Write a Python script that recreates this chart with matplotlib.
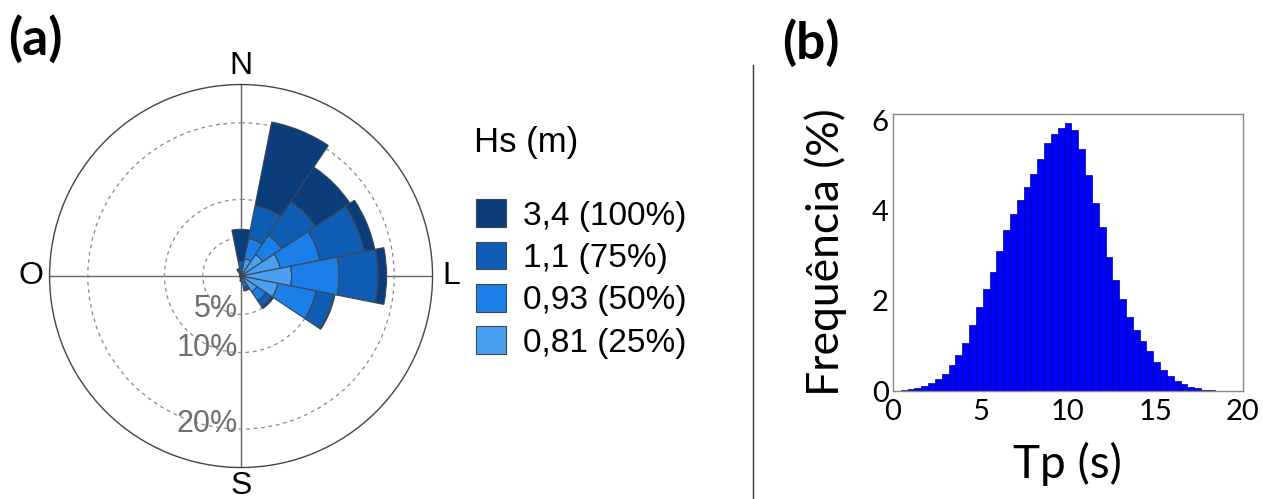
import numpy as np
import matplotlib
matplotlib.use("Agg")
import matplotlib.pyplot as plt
from matplotlib.lines import Line2D
from matplotlib import transforms

# wave rose: frequency (%) per direction and Hs class, 16 sectors clockwise from N
directions = np.arange(16) * 22.5
hs_labels = ['0,81 (25%)', '0,93 (50%)', '1,1 (75%)', '3,4 (100%)']
hs_colors = ['#4a9ff0', '#1a7fe8', '#0f5cb5', '#0a3d7a']
freq_081 = [0.6, 2.3, 3.4, 5.2, 6.6, 4.9, 2.5, 0.9, 0.3, 0.1, 0.1, 0.1, 0.1, 0.1, 0.1, 0.3]
freq_093 = [0.4, 2.7, 3.0, 5.3, 6.2, 5.1, 1.4, 0.6, 0.2, 0.1, 0.0, 0.0, 0.0, 0.0, 0.1, 0.2]
freq_11 = [0.9, 4.4, 5.3, 5.9, 5.1, 2.4, 0.9, 0.4, 0.1, 0.0, 0.0, 0.0, 0.0, 0.0, 0.0, 0.3]
freq_34 = [4.2, 11.1, 5.4, 1.4, 1.1, 0.1, 0.3, 0.1, 0.1, 0.1, 0.0, 0.0, 0.0, 0.0, 0.0, 0.2]
rose_rings = [5, 10, 20]
cardinals = ['N', 'L', 'S', 'O']

# Tp histogram (%), bins of 0.39 s starting at 0.45 s
tp_start = 0.45
tp_width = 0.39
tp_freq = [0.015, 0.04, 0.07, 0.11, 0.17, 0.26, 0.38, 0.58, 0.81, 1.06,
           1.46, 1.87, 2.27, 2.65, 3.11, 3.58, 3.92, 4.25, 4.52, 4.82,
           5.16, 5.50, 5.70, 5.84, 5.95, 5.79, 5.37, 4.79, 4.17, 3.64,
           2.97, 2.47, 2.04, 1.64, 1.36, 1.12, 0.88, 0.65, 0.47, 0.33,
           0.23, 0.15, 0.10, 0.06, 0.03, 0.015, 0.008, 0.0, 0.0, 0.0]

fig = plt.figure(figsize=(12.63, 4.99), dpi=100)

# ---- (a) wave rose ----
ax = fig.add_axes([0.0392, 0.0631, 0.3033, 0.7675], projection='polar')
ax.set_theta_zero_location('N')
ax.set_theta_direction(-1)
ax.set_axisbelow(True)
theta = np.deg2rad(directions)
width = np.deg2rad(22.5)
bottom = np.zeros(16)
bars = []
for vals, col, lab in zip([freq_081, freq_093, freq_11, freq_34], hs_colors, hs_labels):
    b = ax.bar(theta, vals, width=width, bottom=bottom, color=col,
               edgecolor='#3c4654', linewidth=0.8, label=lab)
    bars.append(b)
    bottom = bottom + np.array(vals)
ax.set_ylim(0, 25)
ax.set_yticks(rose_rings)
ax.set_yticklabels([])
ax.yaxis.grid(True, linestyle=(0, (3, 3)), color='#8a8a8a', linewidth=0.9)
ax.set_xticks(np.deg2rad([0, 90, 180, 270]))
ax.set_xticklabels(cardinals, fontsize=23, family='Liberation Sans')
ax.tick_params(axis='x', pad=3)
ax.xaxis.grid(True, linestyle='-', color='#666666', linewidth=1.0)
ax.spines['polar'].set_color('#444444')
ax.spines['polar'].set_linewidth(1.0)
off = transforms.offset_copy(ax.transData, fig=fig, x=-3, y=5, units='dots')
for r in rose_rings:
    ax.text(np.pi, r, f'{r}%', transform=off, ha='right', va='center',
            fontsize=22, color='#6e6e6e', family='Liberation Sans')

fig.text(474 / 1263, 1 - 142 / 499, 'Hs (m)', fontsize=25, va='center',
         family='Liberation Sans')
handles = bars[::-1]
fig.legend(handles=handles, labels=hs_labels[::-1], loc='upper left',
           bbox_to_anchor=(453 / 1263, 1 - 176 / 499), frameon=False,
           prop={'family': 'Liberation Sans', 'size': 24},
           handlelength=0.9, handleheight=0.9, handletextpad=0.5,
           labelspacing=0.3, borderpad=0.2)

# ---- (b) Tp histogram ----
bx = fig.add_axes([0.7070, 0.2164, 0.2771, 0.5551])
edges = tp_start + tp_width * np.arange(len(tp_freq))
bx.bar(edges, tp_freq, width=tp_width, align='edge', color='#0000ff',
       edgecolor='#00008c', linewidth=0.5)
bx.set_xlim(0, 20)
bx.set_ylim(0, 6.15)
bx.set_xticks([0, 5, 10, 15, 20])
bx.set_yticks([0, 2, 4, 6])
for lab in bx.get_xticklabels() + bx.get_yticklabels():
    lab.set_family('Lato')
    lab.set_fontsize(21)
bx.tick_params(axis='x', length=0, pad=6)
bx.tick_params(axis='y', length=0, pad=3)
for s in bx.spines.values():
    s.set_color('#888888')
    s.set_linewidth(1.0)
bx.set_xlabel('Tp (s)', fontsize=33, family='Lato', labelpad=12)
bx.set_ylabel('Frequência (%)', fontsize=32, family='Lato', labelpad=18)

# divider between panels
fig.add_artist(Line2D([753 / 1263, 753 / 1263], [0, 1 - 65 / 499],
                      color='#333333', linewidth=1.0))

fig.text(8 / 1263, 1 - 39 / 499, '(a)', fontsize=37, fontweight='bold',
         va='center', family='Lato')
fig.text(782 / 1263, 1 - 43 / 499, '(b)', fontsize=37, fontweight='bold',
         va='center', family='Lato')

fig.savefig('out.png', dpi=100)
